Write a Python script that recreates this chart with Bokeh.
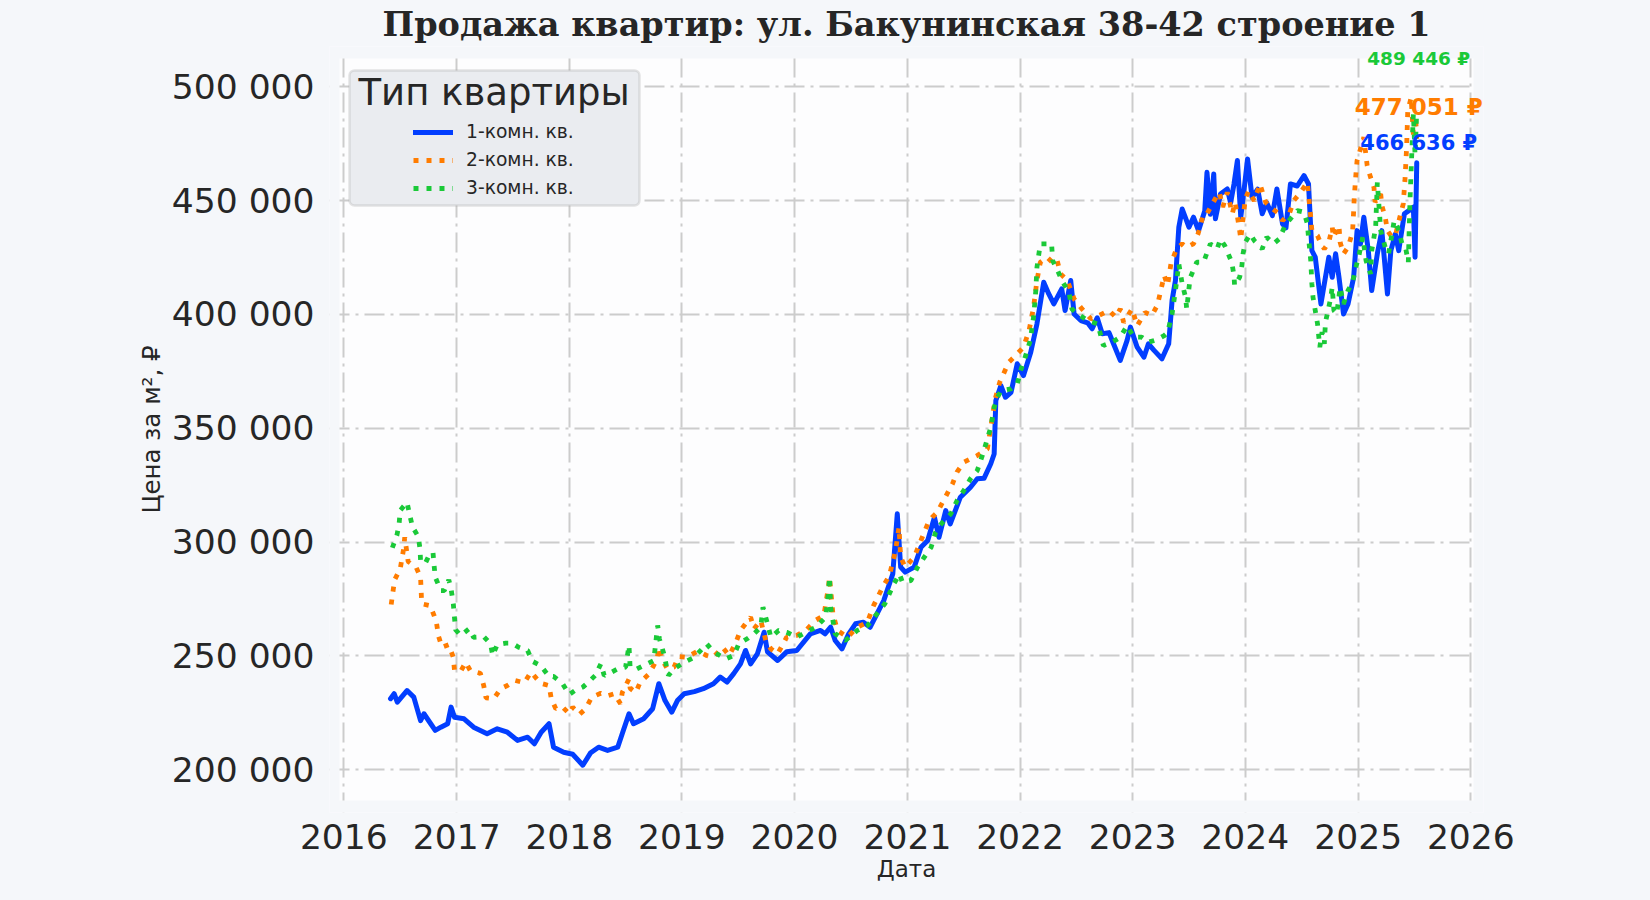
import pandas as pd
from bokeh.plotting import figure
from bokeh.models import (Range1d, FixedTicker, DatetimeTickFormatter, Legend, LegendItem,
                          Label, BoxAnnotation, GlobalInlineStyleSheet)
from bokeh.embed import file_html
from bokeh.resources import INLINE

TITLE = "Продажа квартир: ул. Бакунинская 38-42 строение 1"
X_LABEL = "Дата"
Y_LABEL = "Цена за м², ₽"
LEGEND_TITLE = "Тип квартиры"
SERIES_NAMES = ["1-комн. кв.", "2-комн. кв.", "3-комн. кв."]
YEAR_TICKS = list(range(2016, 2027))
PRICE_TICKS = [200000, 250000, 300000, 350000, 400000, 450000, 500000]

# dates as decimal years, prices in rubles per m2
room1_t = [2016.414, 2016.446, 2016.474, 2016.56, 2016.62, 2016.68, 2016.71, 2016.77, 2016.81, 2016.86,
           2016.92, 2016.95, 2016.98, 2017.065, 2017.15, 2017.27, 2017.36, 2017.45, 2017.54, 2017.63,
           2017.69, 2017.75, 2017.82, 2017.86, 2017.95, 2018.03, 2018.12, 2018.19, 2018.26, 2018.34,
           2018.43, 2018.47, 2018.53, 2018.57, 2018.66, 2018.74, 2018.795, 2018.85, 2018.91, 2018.96,
           2019.02, 2019.11, 2019.19, 2019.28, 2019.34, 2019.40, 2019.46, 2019.52, 2019.565, 2019.61,
           2019.67, 2019.73, 2019.76, 2019.85, 2019.93, 2020.02, 2020.14, 2020.23, 2020.27, 2020.32,
           2020.36, 2020.42, 2020.48, 2020.54, 2020.61, 2020.67, 2020.73, 2020.79, 2020.87, 2020.91,
           2020.94, 2020.98, 2021.06, 2021.12, 2021.18, 2021.24, 2021.28, 2021.34, 2021.38, 2021.47,
           2021.56, 2021.62, 2021.68, 2021.74, 2021.77, 2021.785, 2021.83, 2021.87, 2021.92, 2021.975,
           2022.03, 2022.095, 2022.15, 2022.21, 2022.255, 2022.30, 2022.37, 2022.40, 2022.45, 2022.48,
           2022.54, 2022.60, 2022.64, 2022.685, 2022.73, 2022.79, 2022.83, 2022.89, 2022.95, 2022.98,
           2023.04, 2023.10, 2023.14, 2023.19, 2023.26, 2023.32, 2023.35, 2023.38, 2023.41, 2023.44,
           2023.50, 2023.54, 2023.585, 2023.64, 2023.66, 2023.69, 2023.72, 2023.735, 2023.78, 2023.84,
           2023.87, 2023.90, 2023.93, 2023.96, 2023.99, 2024.02, 2024.06, 2024.11, 2024.15, 2024.19,
           2024.24, 2024.28, 2024.33, 2024.36, 2024.40, 2024.46, 2024.52, 2024.56, 2024.59, 2024.62,
           2024.67, 2024.70, 2024.74, 2024.77, 2024.80, 2024.83, 2024.87, 2024.91, 2024.96, 2024.99,
           2025.02, 2025.05, 2025.09, 2025.12, 2025.17, 2025.21, 2025.26, 2025.29, 2025.33, 2025.36,
           2025.41, 2025.45, 2025.49, 2025.505, 2025.52]
room1_v = [231200, 233400, 229700, 234800, 231900, 221600, 224600, 220200, 217300, 218700,
           220200, 227500, 223100, 222400, 218700, 215800, 218000, 216500, 212900, 214300,
           211400, 216500, 220200, 209900, 207700, 206800, 202000, 207500, 209900, 208500,
           209900, 215800, 224600, 220200, 222400, 226800, 237800, 230400, 225300, 230400,
           233400, 234300, 235600, 237800, 240700, 238500, 242200, 246500, 252400, 246500,
           250900, 260400, 251800, 248000, 251800, 252400, 259700, 261200, 259700, 262600,
           256800, 253100, 259700, 264100, 264800, 262600, 268500, 274300, 286000, 312400,
           289000, 286800, 289000, 297700, 300700, 310900, 302100, 313800, 308000, 319700,
           324100, 327800, 328000, 334400, 338700, 362200, 368700, 363600, 365800, 378300,
           373100, 383400, 395800, 414100, 409000, 404600, 411200, 401700, 414900, 400200,
           397300, 396300, 393700, 398500, 391500, 392000, 387100, 379800, 388500, 394400,
           385600, 381200, 387100, 384200, 380500, 387100, 406100, 414900, 438300, 446300,
           438300, 442700, 436800, 445400, 462400, 444000, 461700, 442000, 452900, 455100,
           449000, 457300, 467600, 442700, 455000, 468300, 451400, 455000, 444200, 449000,
           443400, 455100, 439800, 438000, 457300, 456400, 461000, 457300, 428000, 425100,
           404600, 413400, 425100, 416300, 426600, 416300, 400200, 404600, 416300, 436800,
           431000, 442700, 428000, 410500, 426600, 436800, 409000, 428000, 435300, 428000,
           444200, 445600, 447100, 425100, 466636]

room2_t = [2016.42, 2016.435, 2016.45, 2016.50, 2016.53, 2016.54, 2016.57, 2016.64, 2016.68, 2016.69,
           2016.765, 2016.80, 2016.82, 2016.84, 2016.87, 2016.93, 2016.97, 2016.98, 2017.035, 2017.08,
           2017.12, 2017.21, 2017.24, 2017.26, 2017.33, 2017.39, 2017.45, 2017.52, 2017.60, 2017.66,
           2017.745, 2017.82, 2017.84, 2017.88, 2017.94, 2018.00, 2018.03, 2018.09, 2018.145, 2018.20,
           2018.28, 2018.34, 2018.40, 2018.455, 2018.47, 2018.53, 2018.54, 2018.59, 2018.63, 2018.71,
           2018.78, 2018.795, 2018.83, 2018.87, 2018.93, 2018.97, 2019.04, 2019.14, 2019.22, 2019.28,
           2019.36, 2019.42, 2019.48, 2019.52, 2019.56, 2019.61, 2019.64, 2019.70, 2019.745, 2019.79,
           2019.85, 2019.93, 2020.02, 2020.10, 2020.185, 2020.26, 2020.30, 2020.31, 2020.34, 2020.38,
           2020.47, 2020.555, 2020.645, 2020.70, 2020.78, 2020.84, 2020.895, 2020.925, 2020.94, 2020.98,
           2021.06, 2021.12, 2021.18, 2021.22, 2021.265, 2021.32, 2021.40, 2021.44, 2021.50, 2021.62,
           2021.71, 2021.74, 2021.78, 2021.82, 2021.90, 2021.96, 2022.03, 2022.08, 2022.12, 2022.15,
           2022.18, 2022.24, 2022.30, 2022.33, 2022.36, 2022.42, 2022.48, 2022.55, 2022.63, 2022.70,
           2022.79, 2022.85, 2022.89, 2022.92, 2022.995, 2023.04, 2023.11, 2023.17, 2023.22, 2023.25,
           2023.28, 2023.31, 2023.34, 2023.39, 2023.44, 2023.48, 2023.54, 2023.58, 2023.63, 2023.66,
           2023.74, 2023.77, 2023.80, 2023.84, 2023.885, 2023.91, 2023.95, 2023.96, 2024.00, 2024.03,
           2024.08, 2024.13, 2024.18, 2024.24, 2024.30, 2024.33, 2024.39, 2024.43, 2024.49, 2024.55,
           2024.56, 2024.58, 2024.59, 2024.64, 2024.67, 2024.70, 2024.74, 2024.77, 2024.78, 2024.83,
           2024.84, 2024.87, 2024.91, 2024.95, 2024.96, 2024.965, 2024.98, 2024.99, 2025.05, 2025.08,
           2025.11, 2025.14, 2025.15, 2025.20, 2025.21, 2025.24, 2025.26, 2025.30, 2025.33, 2025.37,
           2025.40, 2025.415, 2025.43, 2025.44, 2025.47, 2025.49, 2025.51, 2025.52]
room2_v = [272600, 278000, 283400, 288300, 297000, 302100, 291500, 289000, 284600, 272900,
           272100, 267700, 264800, 258500, 253800, 254900, 249400, 243900, 243200, 247200,
           243600, 242400, 237000, 231600, 231200, 235600, 237000, 239200, 238200, 242900,
           238000, 237000, 231200, 226800, 227500, 224600, 227500, 224300, 226800, 231900,
           233600, 232500, 233400, 229000, 233900, 239900, 235800, 233900, 238500, 242200,
           248700, 253800, 248000, 244300, 245100, 249700, 249400, 252100, 250200, 249400,
           253800, 250200, 256000, 261200, 263800, 267000, 261900, 265600, 256700, 253100,
           250900, 258200, 259000, 261200, 265600, 267700, 280200, 284600, 268500, 261200,
           258200, 262600, 264800, 272100, 280200, 285300, 296300, 306500, 293400, 289000,
           293400, 300700, 308000, 310900, 313100, 318200, 325600, 330700, 335100, 338000,
           340900, 350400, 363000, 370300, 379000, 381900, 385600, 392900, 403100, 414900,
           422900, 425100, 422200, 423600, 417800, 414900, 406800, 402400, 398000, 399500,
           401700, 398800, 402400, 396500, 402400, 395000, 400900, 399500, 404100, 410500,
           417100, 412700, 422300, 428800, 431000, 429500, 431000, 435300, 444200, 444200,
           451400, 453600, 447100, 453600, 444200, 449300, 436800, 433100, 450700, 454300,
           449900, 457300, 449300, 446400, 444200, 441200, 444200, 450000, 453600, 458000,
           452900, 442700, 436800, 434600, 431000, 428800, 431700, 438300, 433900, 439000,
           431700, 426600, 429500, 436100, 445600, 451400, 461700, 467500, 477800, 465300,
           460200, 455800, 449300, 452900, 447800, 442700, 436800, 433900, 434600, 442700,
           448500, 458700, 473300, 489400, 495200, 479000, 486500, 477051]

room3_t = [2016.43, 2016.47, 2016.49, 2016.50, 2016.56, 2016.585, 2016.61, 2016.66, 2016.675, 2016.68,
           2016.72, 2016.755, 2016.79, 2016.80, 2016.81, 2016.86, 2016.89, 2016.93, 2016.95, 2016.97,
           2016.98, 2016.99, 2017.035, 2017.11, 2017.15, 2017.24, 2017.30, 2017.32, 2017.36, 2017.435,
           2017.49, 2017.55, 2017.63, 2017.67, 2017.745, 2017.82, 2017.86, 2017.94, 2018.00, 2018.05,
           2018.12, 2018.17, 2018.23, 2018.28, 2018.31, 2018.35, 2018.43, 2018.50, 2018.53, 2018.54,
           2018.60, 2018.69, 2018.75, 2018.785, 2018.80, 2018.84, 2018.88, 2018.93, 2019.02, 2019.11,
           2019.22, 2019.28, 2019.39, 2019.46, 2019.505, 2019.59, 2019.64, 2019.70, 2019.72, 2019.76,
           2019.79, 2019.86, 2019.93, 2020.02, 2020.10, 2020.19, 2020.275, 2020.30, 2020.31, 2020.32,
           2020.36, 2020.45, 2020.555, 2020.645, 2020.73, 2020.80, 2020.88, 2020.93, 2020.955, 2021.03,
           2021.09, 2021.15, 2021.21, 2021.25, 2021.30, 2021.385, 2021.44, 2021.50, 2021.56, 2021.62,
           2021.665, 2021.71, 2021.74, 2021.77, 2021.80, 2021.83, 2021.92, 2021.975, 2022.005, 2022.05,
           2022.09, 2022.12, 2022.14, 2022.15, 2022.18, 2022.24, 2022.28, 2022.29, 2022.34, 2022.38,
           2022.435, 2022.46, 2022.51, 2022.60, 2022.69, 2022.74, 2022.82, 2022.89, 2022.95, 2023.01,
           2023.08, 2023.14, 2023.22, 2023.28, 2023.31, 2023.35, 2023.38, 2023.41, 2023.44, 2023.47,
           2023.48, 2023.51, 2023.57, 2023.63, 2023.69, 2023.75, 2023.78, 2023.82, 2023.88, 2023.90,
           2023.905, 2023.95, 2023.97, 2023.98, 2024.00, 2024.045, 2024.08, 2024.15, 2024.19, 2024.25,
           2024.30, 2024.36, 2024.40, 2024.46, 2024.52, 2024.55, 2024.56, 2024.58, 2024.59, 2024.60,
           2024.62, 2024.64, 2024.66, 2024.68, 2024.70, 2024.71, 2024.755, 2024.77, 2024.785, 2024.81,
           2024.84, 2024.87, 2024.91, 2024.95, 2024.98, 2025.01, 2025.04, 2025.07, 2025.11, 2025.12,
           2025.155, 2025.17, 2025.20, 2025.24, 2025.27, 2025.32, 2025.35, 2025.39, 2025.42, 2025.445,
           2025.46, 2025.47, 2025.49, 2025.505, 2025.52]
room3_v = [297500, 302900, 308000, 313900, 317500, 311700, 306500, 302400, 297000, 291900,
           290500, 294100, 295500, 289700, 284600, 278700, 278700, 283400, 279500, 272900,
           267000, 261500, 259000, 261900, 258200, 258500, 255300, 250200, 255000, 255600,
           255600, 253800, 252400, 247700, 245800, 241000, 241000, 237800, 233100, 234800,
           236300, 238500, 241400, 246500, 241400, 242200, 244300, 245100, 254600, 245100,
           244300, 246500, 248000, 263400, 257500, 250900, 241400, 244300, 247200, 249400,
           255300, 251800, 248700, 250200, 255300, 257900, 259700, 262600, 271400, 264100,
           258200, 261200, 260400, 258200, 260400, 262600, 267000, 277300, 284600, 271400,
           259700, 256800, 261200, 263300, 268500, 272900, 281700, 286000, 282400, 283100,
           289000, 293400, 297700, 304300, 308000, 312400, 318200, 322600, 327800, 331400,
           338000, 345400, 350400, 359200, 363600, 366500, 367300, 369400, 375300, 381900,
           388500, 398800, 410500, 420700, 431000, 431000, 431000, 423600, 418500, 414100,
           409700, 402400, 400200, 397300, 395800, 386300, 387800, 390000, 395000, 390000,
           390000, 387800, 389000, 390700, 392000, 400200, 410500, 422200, 413400, 407500,
           402400, 416000, 423000, 423000, 431000, 428800, 433100, 430000, 422900, 417100,
           412700, 416300, 421400, 426600, 431700, 435300, 432400, 428800, 433900, 431000,
           433100, 439800, 442000, 445600, 444900, 439800, 433900, 423600, 413400, 407500,
           401700, 395800, 385600, 392200, 387100, 396500, 406800, 411900, 401700, 400200,
           411900, 404600, 410500, 414100, 420700, 426600, 433900, 423600, 417800, 428000,
           438300, 458000, 436800, 429500, 426600, 441200, 438300, 431000, 429500, 422900,
           450000, 463100, 488100, 470000, 489446]

COLORS = ["#023eff", "#ff7c00", "#1ac938"]
TEXT = "#262626"
PAGE_BG = "#f5f7fa"


def to_ms(y):
    yr = int(y)
    start = pd.Timestamp(yr, 1, 1)
    end = pd.Timestamp(yr + 1, 1, 1)
    return (start + (end - start) * (y - yr)).value / 1e6


def fmt_price(v):
    return f"{v:,}".replace(",", " ")


# visible plot area 1134 x 742 px; the frame is a little larger on every side and
# the margin strips are painted in page colour, so that the end labels can
# overhang the visible area without being clipped
VIS_W, VIS_H = 1134, 742
SX, SY = 10, 12
xv0, xv1 = to_ms(2015.962), to_ms(2026.024)
yv0, yv1 = 186500, 512400
dx = SX * (xv1 - xv0) / VIS_W
dy = SY * (yv1 - yv0) / VIS_H
x0, x1 = xv0 - dx, xv1 + dx
y0, y1 = yv0 - dy, yv1 + dy

p = figure(width=1634, height=884, x_axis_type="datetime",
           x_range=Range1d(x0, x1), y_range=Range1d(y0, y1),
           output_backend="svg", toolbar_location=None, title=TITLE,
           min_border_left=329, min_border_right=151, min_border_top=46, min_border_bottom=72)
p.background_fill_color = "#fdfdfe"
p.border_fill_color = PAGE_BG
p.outline_line_color = None
p.stylesheets = [GlobalInlineStyleSheet(css="body { background: %s; }" % PAGE_BG)]

p.title.align = "center"
p.title.text_font = "DejaVu Serif"
p.title.text_font_size = "33.5px"
p.title.text_font_style = "bold"
p.title.text_color = TEXT
p.title.standoff = 5

p.xaxis.ticker = FixedTicker(ticks=[to_ms(y) for y in YEAR_TICKS])
p.xaxis.formatter = DatetimeTickFormatter(years="%Y", months="%Y", days="%Y", hours="%Y")
p.yaxis.ticker = FixedTicker(ticks=PRICE_TICKS)
p.yaxis.major_label_overrides = {v: fmt_price(v) for v in PRICE_TICKS}

for ax in (p.xaxis[0], p.yaxis[0]):
    ax.axis_line_color = None
    ax.major_tick_line_color = None
    ax.minor_tick_line_color = None
    ax.major_label_text_font = "DejaVu Sans"
    ax.major_label_text_font_size = "34.5px"
    ax.major_label_text_color = TEXT
    ax.axis_label_text_font = "DejaVu Sans"
    ax.axis_label_text_font_style = "normal"
    ax.axis_label_text_color = TEXT
p.xaxis.axis_label = X_LABEL
p.yaxis.axis_label = Y_LABEL
p.xaxis.axis_label_text_font_size = "23px"
p.yaxis.axis_label_text_font_size = "24.5px"
p.xaxis.major_label_standoff = 17 - SY
p.xaxis.axis_label_standoff = 4
p.yaxis.major_label_standoff = 19 - SX
p.yaxis.axis_label_standoff = 3

for g in (p.xgrid[0], p.ygrid[0]):
    g.grid_line_color = "#cccccc"
    g.grid_line_width = 2
    g.grid_line_dash = "20 6 3 6"

# page-coloured strips round the visible plot area (they cover the grid there)
for box in [dict(bottom=yv1, top=y1, left=x0, right=x1),
            dict(bottom=y0, top=yv0, left=x0, right=x1),
            dict(bottom=y0, top=y1, left=x0, right=xv0),
            dict(bottom=y0, top=y1, left=xv1, right=x1)]:
    p.add_layout(BoxAnnotation(fill_color=PAGE_BG, fill_alpha=1.0, line_alpha=0,
                               level="underlay", **box))

series = [(room1_t, room1_v), (room2_t, room2_v), (room3_t, room3_v)]
renderers = []
for i, (t, v) in enumerate(series):
    xs = [to_ms(a) for a in t]
    if i == 0:
        r = p.line(xs, v, line_color=COLORS[i], line_width=5, line_join="round", line_cap="round")
    else:
        r = p.line(xs, v, line_color=COLORS[i], line_width=4.8, line_dash="5 8", line_cap="butt")
    renderers.append(r)


def fx(px):
    # px measured from the left edge of the visible plot area
    return xv0 + px * (xv1 - xv0) / VIS_W


def fy(py):
    # py measured down from the top edge of the visible plot area
    return yv1 - py * (yv1 - yv0) / VIS_H


# legend frame and title
p.add_layout(BoxAnnotation(left=fx(10), right=fx(300), top=fy(12), bottom=fy(147),
                           fill_color="#eaecf0", fill_alpha=1.0, line_color="#a8a8a8",
                           line_width=2.5, border_radius=5, level="overlay"))
p.add_layout(Label(x=fx(19), y=fy(33.5), text=LEGEND_TITLE, text_font="DejaVu Sans",
                   text_font_size="37px", text_color=TEXT, text_baseline="middle",
                   text_align="left", level="overlay"))
legend = Legend(items=[LegendItem(label=n, renderers=[r]) for n, r in zip(SERIES_NAMES, renderers)],
                location=(74 + SX, 600.5 + SY), padding=0, spacing=4, glyph_height=24,
                label_height=24, glyph_width=40, label_standoff=13, label_text_font="DejaVu Sans",
                label_text_font_size="18.7px", label_text_color=TEXT,
                background_fill_alpha=0, border_line_alpha=0)
p.add_layout(legend)

# end-of-series value labels
label_sizes = ["21px", "23px", "18.5px"]
label_offsets = [20, 32, 52]
for i, (t, v) in enumerate(series):
    p.add_layout(Label(x=to_ms(t[-1]), y=v[-1], text=fmt_price(v[-1]) + " ₽",
                       x_offset=2, y_offset=label_offsets[i], text_align="center",
                       text_baseline="middle", text_font="DejaVu Sans",
                       text_font_size=label_sizes[i], text_font_style="bold",
                       text_color=COLORS[i]))

open("out.html", "w").write(file_html(p, INLINE))
